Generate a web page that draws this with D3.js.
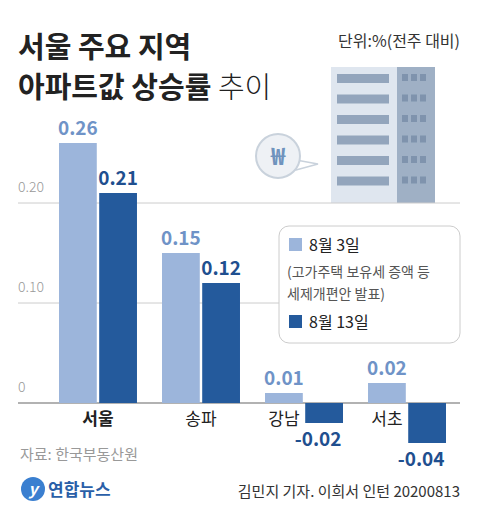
<!DOCTYPE html>
<html><head><meta charset="utf-8">
<script src="https://cdn.jsdelivr.net/npm/d3@7"></script>
<style>body{margin:0;background:#fff}text{font-family:"Noto Sans CJK KR","Noto Sans",sans-serif}</style>
</head><body><svg id="c" width="480" height="520"></svg>
<script>
const regions = ['서울', '송파', '강남', '서초'];
const seriesNames = ['8월 3일', '8월 13일'];
const aug3 = [0.26, 0.15, 0.01, 0.02];
const aug13 = [0.21, 0.12, -0.02, -0.04];
const yTicks = [0, 0.10, 0.20];
const colors = ['#9cb5db', '#245a9c'];

const svg = d3.select('#c');
const x = d3.scaleBand().domain(regions).range([59, 446]).paddingInner(0.243);
const xs = d3.scaleBand().domain([0, 1]).range([0, x.bandwidth()]).paddingInner(0.06);
const y = d3.scaleLinear().domain([0, 0.2]).range([403, 203]);

// title
svg.append('text').attr('x', 18).attr('y', 58).attr('font-size', 29).attr('font-weight', 700).attr('fill', '#222').text('서울 주요 지역');
const t2 = svg.append('text').attr('x', 18).attr('y', 98).attr('font-size', 29).attr('fill', '#222');
t2.append('tspan').attr('font-weight', 700).text('아파트값 상승률 ');
t2.append('tspan').attr('font-weight', 300).text('추이');
svg.append('text').attr('x', 460).attr('y', 47).attr('text-anchor', 'end').attr('font-size', 16).attr('fill', '#333').text('단위:%(전주 대비)');

// building
const b = svg.append('g');
b.append('rect').attr('x', 331).attr('y', 67).attr('width', 67).attr('height', 136).attr('fill', '#dfe6ef');
b.append('rect').attr('x', 397).attr('y', 67).attr('width', 38).attr('height', 136).attr('fill', '#9fb0c5');
for (let i = 0; i < 6; i++) {
  const yy = 74 + i * 20.5;
  b.append('rect').attr('x', 337).attr('y', yy).attr('width', 52).attr('height', 9).attr('fill', '#93a5bc');
  for (let j = 0; j < 3; j++) b.append('rect').attr('x', 402 + j * 9).attr('y', yy).attr('width', 6).attr('height', 7).attr('fill', '#7f93ad');
}
svg.append('path').attr('d', 'M296,160 L318,164 L296,170 Z').attr('fill', '#fff').attr('stroke', '#c9d2dc').attr('stroke-width', 1.5);
svg.append('circle').attr('cx', 278).attr('cy', 156).attr('r', 22).attr('fill', '#eef1f5').attr('stroke', '#c9d2dc').attr('stroke-width', 2);
svg.append('text').attr('x', 278).attr('y', 165).attr('text-anchor', 'middle').attr('font-size', 24).attr('font-weight', 700).attr('fill', '#6f93bd').text('₩');

// grid
yTicks.forEach(t => {
  svg.append('line').attr('x1', 18).attr('x2', 460).attr('y1', y(t)).attr('y2', y(t))
    .attr('stroke', t === 0 ? '#666' : '#ccc').attr('stroke-width', t === 0 ? 1.2 : 1);
  svg.append('text').attr('x', 18).attr('y', y(t) - 11).attr('font-size', 14).attr('font-weight', 300).attr('fill', '#999')
    .text(t === 0 ? '0' : t.toFixed(2));
});

// bars
[aug3, aug13].forEach((vals, s) => {
  regions.forEach((r, i) => {
    const v = vals[i];
    const bx = x(r) + xs(s);
    svg.append('rect').attr('x', bx).attr('width', xs.bandwidth())
      .attr('y', Math.min(y(v), y(0))).attr('height', Math.abs(y(v) - y(0))).attr('fill', colors[s]);
    svg.append('text').attr('x', bx + xs.bandwidth() / 2 + (v < 0 ? -6 : 0))
      .attr('y', v < 0 ? y(v) + 23 : y(v) - 8).attr('text-anchor', 'middle')
      .attr('font-size', 19).attr('font-weight', 700).attr('fill', s === 0 ? '#6f93c7' : '#1f4f8f')
      .text(v.toFixed(2));
  });
});

// category labels
regions.forEach((r, i) => {
  svg.append('text').attr('x', x(r) + (i < 2 ? x.bandwidth() / 2 : xs.bandwidth() / 2)).attr('y', 425)
    .attr('text-anchor', 'middle').attr('font-size', 17).attr('font-weight', i === 0 ? 700 : 400).attr('fill', '#222').text(r);
});

// legend
svg.append('rect').attr('x', 279).attr('y', 226).attr('width', 181).attr('height', 117).attr('rx', 10)
  .attr('fill', '#fff').attr('stroke', '#ccc');
svg.append('rect').attr('x', 289).attr('y', 238).attr('width', 13).attr('height', 13).attr('fill', colors[0]);
svg.append('text').attr('x', 309).attr('y', 251).attr('font-size', 16).attr('fill', '#222').text(seriesNames[0]);
svg.append('text').attr('x', 287).attr('y', 277).attr('font-size', 14).attr('fill', '#555').text('(고가주택 보유세 증액 등');
svg.append('text').attr('x', 287).attr('y', 299).attr('font-size', 14).attr('fill', '#555').text('세제개편안 발표)');
svg.append('rect').attr('x', 289).attr('y', 315).attr('width', 13).attr('height', 13).attr('fill', colors[1]);
svg.append('text').attr('x', 309).attr('y', 328).attr('font-size', 16).attr('fill', '#222').text(seriesNames[1]);

// footer
svg.append('text').attr('x', 20).attr('y', 460).attr('font-size', 15).attr('fill', '#999').text('자료: 한국부동산원');
svg.append('circle').attr('cx', 33).attr('cy', 489).attr('r', 12).attr('fill', '#3a7fd0');
svg.append('text').attr('x', 33).attr('y', 495).attr('text-anchor', 'middle').attr('font-size', 16).attr('font-style', 'italic').attr('font-weight', 700).attr('fill', '#fff').text('y');
svg.append('text').attr('x', 48).attr('y', 496).attr('font-size', 17).attr('font-weight', 700).attr('fill', '#2a5fa8').text('연합뉴스');
svg.append('text').attr('x', 460).attr('y', 497).attr('text-anchor', 'end').attr('font-size', 15).attr('fill', '#333').text('김민지 기자. 이희서 인턴 20200813');
</script></body></html>
